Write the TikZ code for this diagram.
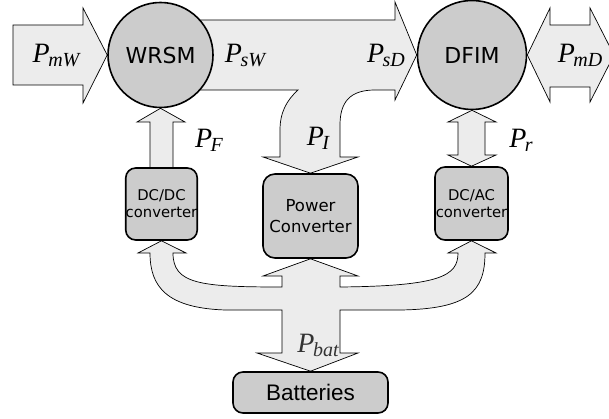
\documentclass[tikz,border=0pt]{standalone}
\usepackage{fontspec}
\newfontfamily\dejavu{DejaVu Sans}
\newfontfamily\arial{Liberation Sans}
\newfontfamily\lserif{Liberation Serif}
\newcommand{\pflow}[1]{P\kern-1.5pt\raisebox{-4pt}{\fontsize{20}{20}\selectfont#1}}
\usetikzlibrary{backgrounds}
\begin{document}
\begin{tikzpicture}[x=1pt,y=-1pt]
        \tikzstyle{machine}=[circle,draw,line width=1.6pt,fill=gray!40,inner sep=0pt,font=\dejavu\fontsize{22}{24}\selectfont]
        \tikzstyle{conv}=[rectangle,rounded corners=10pt,draw,line width=1.6pt,fill=gray!40,inner sep=0pt,align=center]
        \tikzstyle{flow}=[draw,fill=gray!15,line width=0.7pt,line join=miter]
        \tikzstyle{power}=[inner sep=0pt,font=\lserif\itshape\fontsize{28}{30}\selectfont]
        \useasboundingbox (0,0) rectangle (609,419);
        % machines
        \node[machine,minimum size=105pt] (wrsm) at (160.5,55) {WRSM};
        \node[machine,minimum size=109pt] (dfim) at (472,55) {DFIM};
        % converters
        \node[conv,minimum width=71pt,minimum height=72pt,font=\dejavu\fontsize{14.8}{17}\selectfont] (dcdc) at (161.5,204) {DC/DC\\converter};
        \node[conv,rounded corners=12pt,minimum width=95pt,minimum height=84pt,font=\dejavu\fontsize{16.5}{21}\selectfont] (pc) at (310.5,216) {Power\\Converter};
        \node[conv,minimum width=73pt,minimum height=73pt,font=\dejavu\fontsize{14.8}{17}\selectfont] (dcac) at (471.5,203.5) {DC/AC\\converter};
        \node[conv,minimum width=155pt,minimum height=41pt,font=\arial\fontsize{22.5}{24}\selectfont] (batt) at (310.5,392.5) {Batteries};
        % power flows
        \begin{scope}[on background layer]
        \draw[flow] (13,25) -- (83,25) -- (83,8) -- (wrsm.west) -- (83,103) -- (83,85) -- (13,85) -- cycle;
        \draw[flow] (160,20) -- (395,20) -- (395,2) -- (dfim.west) -- (395,100) -- (395,90) -- (375,90)
            .. controls (350,90) and (340,102) .. (340,125) -- (340,157) -- (358,157) -- (pc.north) -- (263,157) -- (280,157)
            -- (280,130) .. controls (280,112) and (287,100) .. (298,90) -- (160,90) -- cycle;
        \draw[flow] (150,170) -- (150,122) -- (137,122) -- (wrsm.south) -- (185,122) -- (173,122) -- (173,170) -- cycle;
        \draw[flow] (dfim.south) -- (496,122) -- (485,122) -- (485,155) -- (496,155) -- (dcac.north) -- (448,155) -- (458,155) -- (458,122) -- (448,122) -- cycle;
        \draw[flow] (dfim.east) -- (550,8) -- (550,25) -- (590,25) -- (590,8) -- (614,55) -- (590,102) -- (590,87) -- (550,87) -- (550,102) -- cycle;
        \draw[flow] (pc.south) -- (358,276) -- (340,276) -- (340,287) .. controls (440,286) and (458,276) .. (458,253)
            -- (448,253) -- (dcac.south) -- (496,253) -- (485,253) .. controls (485,292) and (468,309) .. (400,310)
            -- (340,310) -- (340,353) -- (358,353) -- (batt.north) -- (257,353) -- (282,353) -- (282,310) -- (225,310)
            .. controls (167,308) and (150,287) .. (150,253) -- (138,253) -- (dcdc.south) -- (186,253) -- (173,253)
            .. controls (173,284) and (200,287) .. (282,287) -- (282,276) -- (263,276) -- cycle;
        \end{scope}
        % labels
        \node[power] (lmw) at (56,55) {\pflow{mW}};
        \node[power] (lsw) at (245,55) {\pflow{sW}};
        \node[power] (lsd) at (386,55) {\pflow{sD}};
        \node[power] (lmd) at (580,55) {\pflow{mD}};
        \node[power] (lf) at (209,140) {\pflow{F}};
        \node[power] (li) at (318,138) {\pflow{I}};
        \node[power] (lr) at (521,140) {\pflow{r}};
        \node[power,text=black!80] (lbat) at (318,345) {\pflow{bat}};
    \end{tikzpicture}
\end{document}
